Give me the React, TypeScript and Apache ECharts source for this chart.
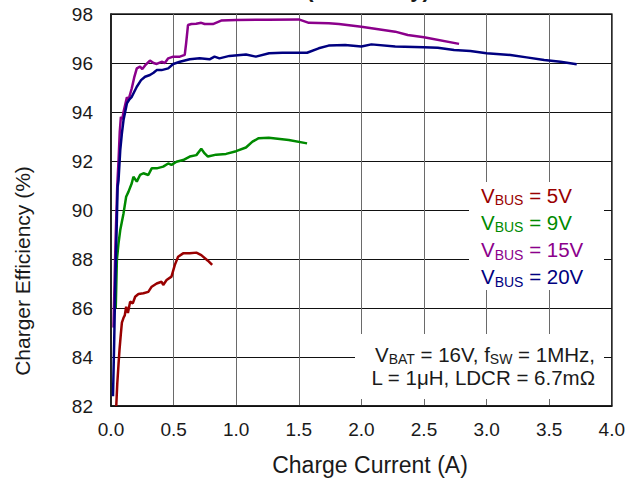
import { useEffect, useRef } from "react";
import * as echarts from "echarts";

// Charge current (A) vs charger efficiency (%) for each input bus voltage
const vbus5V: [number, number][] = [
  [0.042, 82.0], [0.05, 82.9], [0.06, 83.7], [0.068, 84.3], [0.078, 84.9], [0.087, 85.4],
  [0.1, 85.6], [0.11, 85.7], [0.121, 86.05], [0.135, 85.8], [0.153, 86.26], [0.174, 86.19],
  [0.193, 86.46], [0.219, 86.57], [0.259, 86.6], [0.298, 86.66], [0.325, 86.87], [0.365, 87.0],
  [0.404, 87.07], [0.417, 86.94], [0.444, 87.14], [0.483, 87.28], [0.51, 87.76], [0.536, 88.09],
  [0.576, 88.23], [0.629, 88.23], [0.682, 88.26], [0.721, 88.16], [0.774, 87.93], [0.808, 87.76],
];

const vbus9V: [number, number][] = [
  [0.038, 86.0], [0.047, 87.96], [0.06, 88.64], [0.074, 89.18], [0.087, 89.52], [0.1, 89.86],
  [0.121, 90.54], [0.14, 90.75], [0.166, 91.09], [0.179, 91.36], [0.206, 91.16], [0.232, 91.43],
  [0.259, 91.5], [0.298, 91.43], [0.325, 91.7], [0.365, 91.7], [0.417, 91.77], [0.457, 91.9],
  [0.483, 91.84], [0.523, 91.97], [0.576, 92.04], [0.629, 92.18], [0.682, 92.24], [0.721, 92.5],
  [0.748, 92.31], [0.774, 92.18], [0.84, 92.26], [0.919, 92.29], [0.999, 92.4], [1.078, 92.55],
  [1.13, 92.79], [1.18, 92.93], [1.26, 92.95], [1.42, 92.86], [1.566, 92.72],
];

const vbus15V: [number, number][] = [
  [0.02, 85.2], [0.035, 88.5], [0.05, 91.0], [0.06, 92.0], [0.07, 93.2], [0.079, 93.8],
  [0.09, 93.7], [0.1, 94.0], [0.127, 94.6], [0.14, 94.5], [0.166, 94.97], [0.185, 95.4],
  [0.206, 95.78], [0.232, 95.85], [0.25, 95.75], [0.272, 95.9], [0.311, 96.1], [0.34, 96.0],
  [0.365, 95.96], [0.404, 96.05], [0.43, 96.0], [0.457, 96.19], [0.497, 96.26], [0.55, 96.26],
  [0.589, 96.33], [0.6, 96.8], [0.615, 97.55], [0.642, 97.59], [0.68, 97.6], [0.721, 97.64],
  [0.748, 97.59], [0.814, 97.59], [0.88, 97.73], [0.999, 97.76], [1.25, 97.77], [1.5, 97.78],
  [1.58, 97.64], [1.74, 97.62], [1.82, 97.59], [2.0, 97.48], [2.27, 97.28], [2.37, 97.14],
  [2.5, 97.05], [2.78, 96.78],
];

const vbus20V: [number, number][] = [
  [0.016, 82.4], [0.025, 84.5], [0.034, 87.0], [0.045, 89.2], [0.053, 90.95], [0.06, 91.2],
  [0.074, 92.45], [0.087, 93.13], [0.1, 93.67], [0.127, 94.35], [0.145, 94.5], [0.166, 94.62],
  [0.206, 95.03], [0.24, 95.3], [0.272, 95.44], [0.311, 95.51], [0.34, 95.6], [0.365, 95.71],
  [0.404, 95.71], [0.457, 95.78], [0.497, 95.96], [0.55, 96.05], [0.629, 96.15], [0.708, 96.19],
  [0.787, 96.15], [0.827, 96.26], [0.866, 96.19], [0.946, 96.29], [1.078, 96.35], [1.157, 96.26],
  [1.263, 96.4], [1.368, 96.42], [1.566, 96.42], [1.659, 96.6], [1.738, 96.71], [1.87, 96.73],
  [2.0, 96.67], [2.08, 96.76], [2.27, 96.67], [2.5, 96.64], [2.61, 96.62], [2.74, 96.53],
  [2.87, 96.49], [3.0, 96.4], [3.19, 96.33], [3.32, 96.23], [3.46, 96.12], [3.59, 96.05],
  [3.72, 95.95],
];

const busLabels = ["5V", "9V", "15V", "20V"];
const busColors = ["#990000", "#008a00", "#8b008b", "#000080"];
const busData = [vbus5V, vbus9V, vbus15V, vbus20V];

const FONT = "'Liberation Sans', Arial, Helvetica, sans-serif";
const INK = "#1a1a1a";

// main text plus a lowered, smaller subscript token that stays inside its line
const SUB = 14;
const richFor = (fill: string, lh = 24) => ({
  v: { fontSize: 20.5, fontFamily: FONT, fill, lineHeight: lh, verticalAlign: "middle" },
  s: { fontSize: SUB, fontFamily: FONT, fill, lineHeight: SUB, padding: [lh - SUB, 0, 0, 0], verticalAlign: "middle" },
});

export default function App() {
  const ref = useRef<HTMLDivElement>(null);

  useEffect(() => {
    if (!ref.current) return;
    const chart = echarts.init(ref.current, undefined, { renderer: "svg" });

    const legendTexts = busLabels.map((lab, i) => ({
      type: "text",
      left: 481,
      top: 183 + i * 27.3,
      z: 101,
      style: {
        text: `{v|V}{s|BUS}{v| = ${lab}}`,
        fill: busColors[i],
        rich: richFor(busColors[i]),
      },
    }));

    chart.setOption({
      animation: false,
      backgroundColor: "#ffffff",
      grid: {
        left: 111,
        right: 13,
        top: 14,
        bottom: 76,
        show: true,
        borderColor: "#222",
        borderWidth: 1.5,
      },
      xAxis: {
        type: "value",
        min: 0,
        max: 4,
        interval: 0.5,
        axisLine: { show: true, lineStyle: { color: "#111", width: 1.5 } },
        axisTick: { show: false },
        axisLabel: {
          color: INK,
          fontSize: 19,
          fontFamily: FONT,
          margin: 14,
          formatter: (v: number) => v.toFixed(1),
        },
        splitLine: { show: true, lineStyle: { color: "#6a6a6a", width: 1 } },
      },
      yAxis: {
        type: "value",
        min: 82,
        max: 98,
        interval: 2,
        axisLine: { show: true, lineStyle: { color: "#111", width: 1.5 } },
        axisTick: { show: false },
        axisLabel: { color: INK, fontSize: 19, fontFamily: FONT, margin: 18 },
        splitLine: { show: true, lineStyle: { color: "#111", width: 1 } },
      },
      series: busData.map((d, i) => ({
        name: `VBUS = ${busLabels[i]}`,
        type: "line",
        data: d,
        showSymbol: false,
        symbol: "none",
        smooth: false,
        lineStyle: { color: busColors[i], width: 2.5 },
        z: 3 + i,
      })),
      graphic: [
        // heading, mostly above the top edge
        {
          type: "text",
          x: 368,
          y: -22,
          z: 100,
          style: {
            text: "(4S Battery)",
            font: `bold 22px ${FONT}`,
            fill: INK,
            align: "center",
            verticalAlign: "top",
          },
        },
        // white panels behind the text blocks
        { type: "rect", shape: { x: 469, y: 182, width: 135, height: 108 }, style: { fill: "#fff" }, z: 100 },
        { type: "rect", shape: { x: 355, y: 334, width: 249, height: 65 }, style: { fill: "#fff" }, z: 100 },
        ...legendTexts,
        // operating conditions, two right-aligned lines
        {
          type: "text",
          x: 595,
          y: 343,
          z: 101,
          style: {
            text: "{v|V}{s|BAT}{v| = 16V, f}{s|SW}{v| = 1MHz,}\n{v|L = 1μH, LDCR = 6.7mΩ}",
            fill: INK,
            align: "right",
            verticalAlign: "top",
            rich: richFor(INK, 23),
          },
        },
        // axis titles
        {
          type: "text",
          x: 370,
          y: 465,
          style: {
            text: "Charge Current (A)",
            font: `23px ${FONT}`,
            fill: INK,
            align: "center",
            verticalAlign: "middle",
          },
        },
        {
          type: "text",
          x: 22,
          y: 271,
          rotation: Math.PI / 2,
          style: {
            text: "Charger Efficiency (%)",
            font: `21px ${FONT}`,
            fill: INK,
            align: "center",
            verticalAlign: "middle",
          },
        },
      ],
    });

    return () => chart.dispose();
  }, []);

  return (
    <div
      ref={ref}
      style={{ position: "fixed", left: 0, top: 0, width: 628, height: 482, background: "#fff" }}
    />
  );
}
